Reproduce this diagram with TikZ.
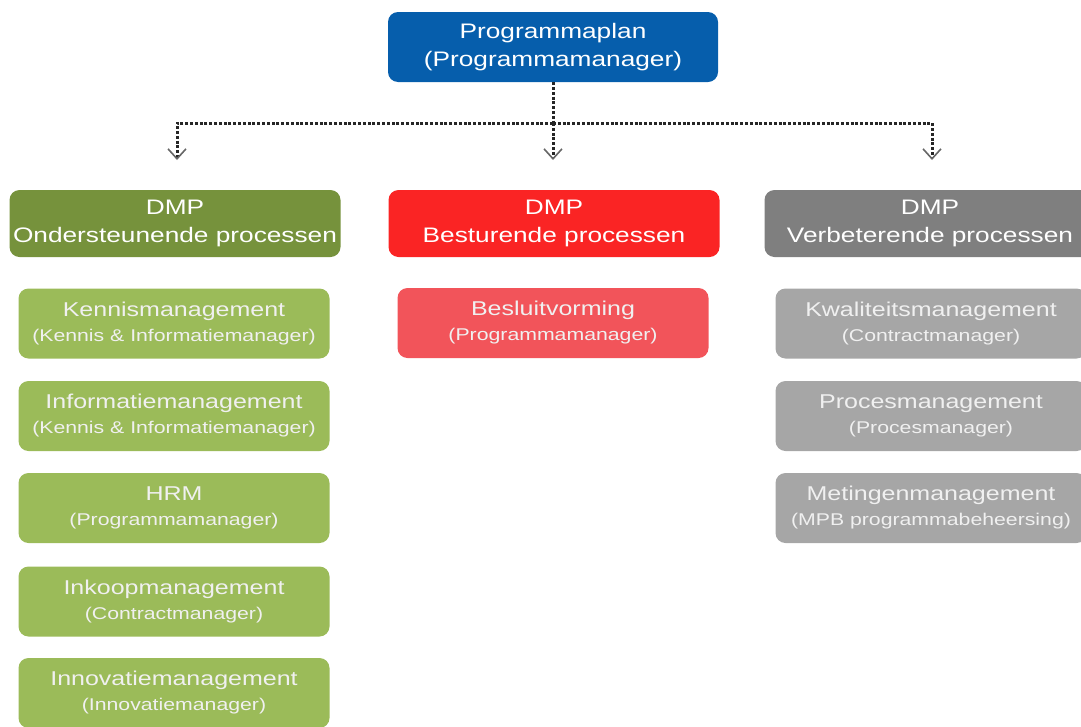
\documentclass[tikz,border=0pt]{standalone}
\usepackage{fontspec}
\setmainfont[FakeStretch=1.25]{Liberation Sans}
\usepackage{tikz}
\usetikzlibrary{arrows.meta}

\definecolor{planblue}{RGB}{6,94,172}
\definecolor{ondgreen}{RGB}{118,146,60}
\definecolor{ondlight}{RGB}{155,187,89}
\definecolor{besred}{RGB}{250,36,36}
\definecolor{beslight}{RGB}{242,84,90}
\definecolor{verbgray}{RGB}{127,127,127}
\definecolor{verblight}{RGB}{166,166,166}

\begin{document}
\begin{tikzpicture}[x=1pt, y=-1pt, >={Straight Barb[length=10pt,width=18pt,line width=1.6pt,color=black!60]},
    headbox/.style={rounded corners=10pt, text=white, align=center, minimum width=331pt, minimum height=67pt, inner sep=0pt, font=\fontsize{21}{28}\selectfont},
    subbox/.style={rounded corners=10pt, text=white!94!black, align=center, minimum width=311pt, minimum height=70pt, inner sep=0pt, font=\fontsize{20}{25}\selectfont},
    conn/.style={black!85, line width=3pt, dash pattern=on 3pt off 1.8pt}]
    \clip (0,0) rectangle (1081,726);

    % top
    \node[headbox, fill=planblue, minimum width=330pt, minimum height=70pt] (plan) at (553,47) {Programmaplan\\(Programmamanager)};

    % headers
    \node[headbox, fill=ondgreen] (ond) at (175,223.5) {DMP\\Ondersteunende processen};
    \node[headbox, fill=besred] (bes) at (554,223.5) {DMP\\Besturende processen};
    \node[headbox, fill=verbgray] (verb) at (930,223.5) {DMP\\Verbeterende processen};

    % ondersteunende processen
    \node[subbox, fill=ondlight] (kennis) at (174,323.5) {Kennismanagement\\{\fontsize{17}{25}\selectfont(Kennis \& Informatiemanager)}};
    \node[subbox, fill=ondlight] (info) at (174,416) {Informatiemanagement\\{\fontsize{17}{25}\selectfont(Kennis \& Informatiemanager)}};
    \node[subbox, fill=ondlight] (hrm) at (174,508) {HRM\\{\fontsize{17}{25}\selectfont(Programmamanager)}};
    \node[subbox, fill=ondlight] (inkoop) at (174,601.5) {Inkoopmanagement\\{\fontsize{17}{25}\selectfont(Contractmanager)}};
    \node[subbox, fill=ondlight] (innov) at (174,693) {Innovatiemanagement\\{\fontsize{17}{25}\selectfont(Innovatiemanager)}};

    % besturende processen
    \node[subbox, fill=beslight] (besluit) at (553,323) {Besluitvorming\\{\fontsize{17}{25}\selectfont(Programmamanager)}};

    % verbeterende processen
    \node[subbox, fill=verblight] (kwal) at (931,323.5) {Kwaliteitsmanagement\\{\fontsize{17}{25}\selectfont(Contractmanager)}};
    \node[subbox, fill=verblight] (proces) at (931,416) {Procesmanagement\\{\fontsize{17}{25}\selectfont(Procesmanager)}};
    \node[subbox, fill=verblight] (meting) at (931,508) {Metingenmanagement\\{\fontsize{17}{25}\selectfont(MPB programmabeheersing)}};

    % connectors
    \coordinate (split) at (553,123);
    \coordinate (tipL) at (177,160);
    \coordinate (tipM) at (553,160);
    \coordinate (tipR) at (932,160);
    \draw[conn] (plan.south) -- (split);
    \draw[conn, ->] (split) -| (tipL);
    \draw[conn, ->] (split) -- (tipM);
    \draw[conn, ->] (split) -| (tipR);
\end{tikzpicture}
\end{document}
